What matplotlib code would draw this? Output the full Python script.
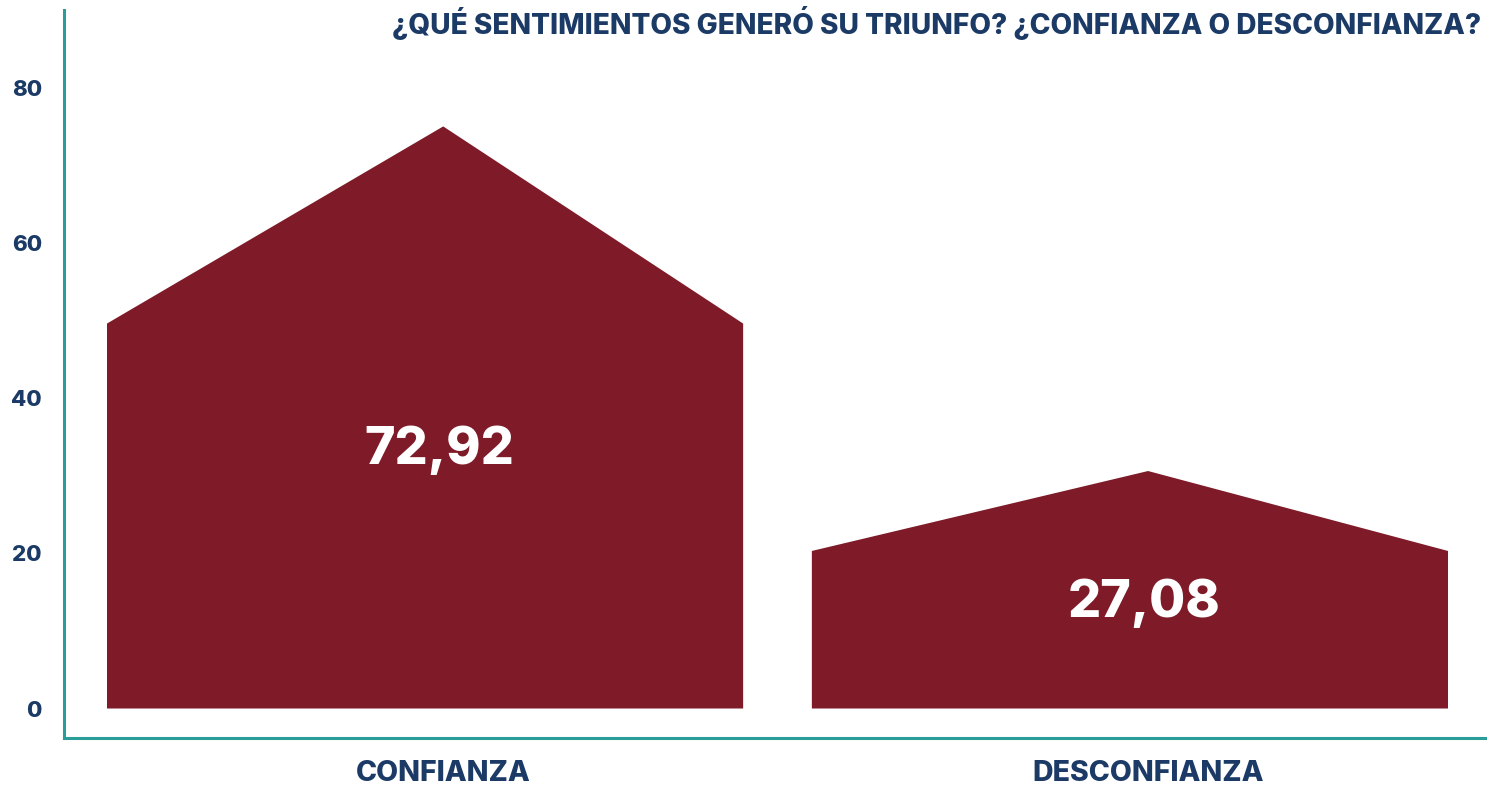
import matplotlib.pyplot as plt
from matplotlib.patches import Polygon

plt.rcParams['font.family'] = ['Inter', 'DejaVu Sans']

categorias = ["CONFIANZA", "DESCONFIANZA"]
valores = [72.92, 27.08]
etiquetas = ["72,92", "27,08"]
# altura del pico y de los hombros de cada "casa"
pico = [75.0, 30.6]
hombro = [49.6, 20.3]
yticks = [0, 20, 40, 60, 80]

bar_color = '#7f1b28'
navy = '#1b3a65'
teal = '#2a9d99'

fig = plt.figure(figsize=(14.93, 7.86), dpi=100)
W, H = 1493, 786
ax = fig.add_axes([64 / W, (H - 738) / H, (1485 - 64) / W, (738 - 10) / H])

izq, der = 0.477, 0.4255
for i, c in enumerate(categorias):
    pts = [(i - izq, 0), (i - izq, hombro[i]), (i, pico[i]),
           (i + der, hombro[i]), (i + der, 0)]
    ax.add_patch(Polygon(pts, closed=True, facecolor=bar_color, edgecolor='none'))
    ax.text(i - 0.005, hombro[i] * 0.67, etiquetas[i], color='white',
            fontsize=37.5, fontweight='heavy', ha='center', va='center')

ax.set_xlim(-0.538, 1.478)
ax.set_ylim(-3.8, 90)
ax.set_xticks(range(len(categorias)))
ax.set_xticklabels(categorias)
ax.set_yticks(yticks)
ax.tick_params(axis='both', length=0, colors=navy, labelsize=16)
ax.tick_params(axis='y', pad=16)
ax.tick_params(axis='x', pad=16)
for lab in ax.get_xticklabels() + ax.get_yticklabels():
    lab.set_fontweight('heavy')
    lab.set_color(navy)
for lab in ax.get_xticklabels():
    lab.set_fontsize(20.5)

for s in ['top', 'right']:
    ax.spines[s].set_visible(False)
for s in ['left', 'bottom']:
    ax.spines[s].set_color(teal)
    ax.spines[s].set_linewidth(2.2)

fig.text(1481 / W, 1 - 23 / H, "¿QUÉ SENTIMIENTOS GENERÓ SU TRIUNFO? ¿CONFIANZA O DESCONFIANZA?",
         ha='right', va='center', color=navy, fontsize=20.2, fontweight='heavy')

fig.savefig('out.png', dpi=100)
